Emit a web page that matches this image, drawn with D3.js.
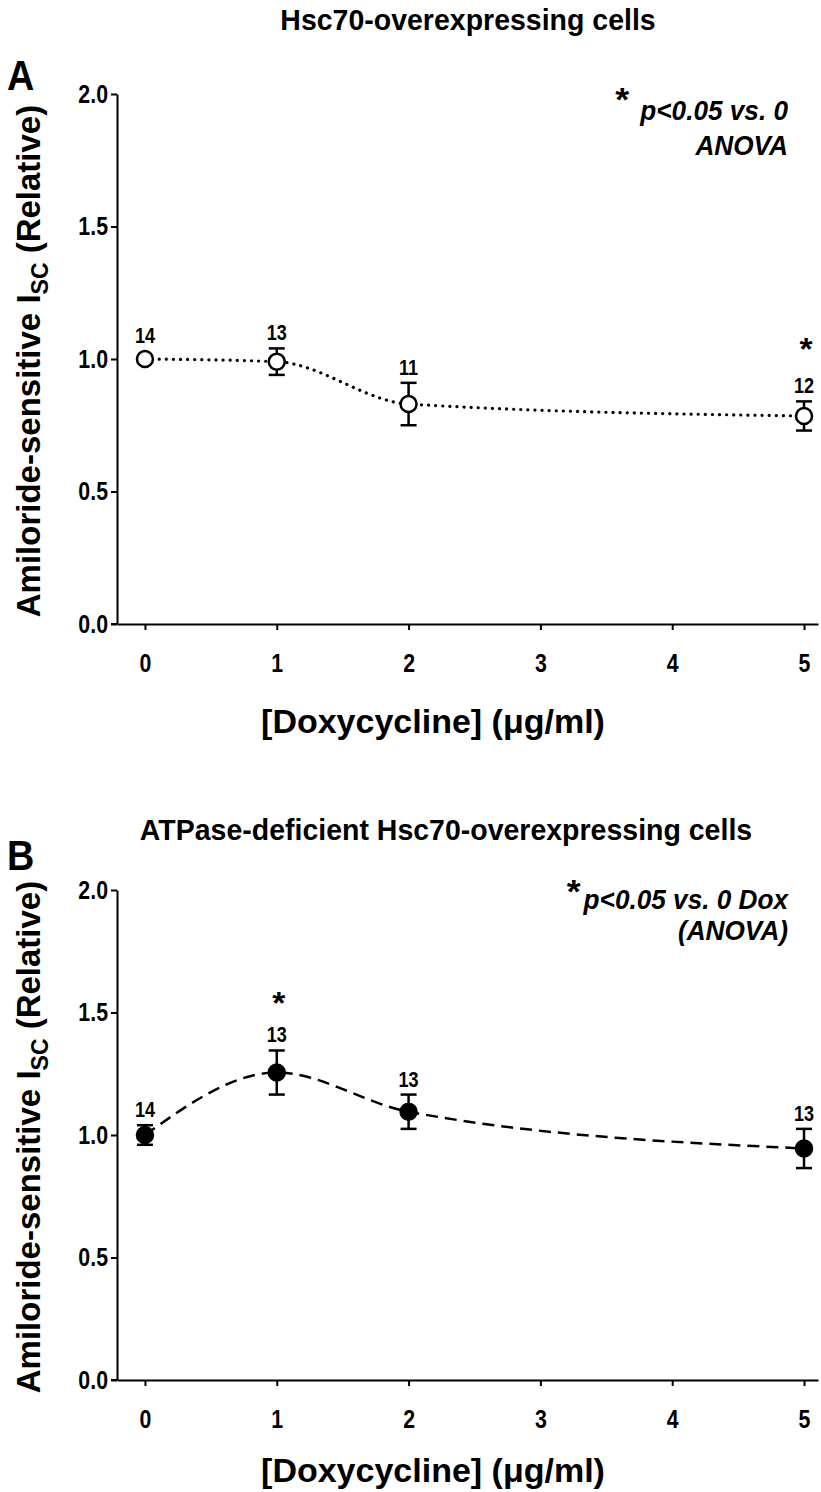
<!DOCTYPE html>
<html>
<head>
<meta charset="utf-8">
<script src="https://cdn.jsdelivr.net/npm/d3@7"></script>
<style>
  html, body { margin: 0; padding: 0; background: #fff; }
  svg { display: block; }
  text { font-family: "Liberation Sans", Arial, sans-serif; font-weight: bold; fill: #000; }
</style>
</head>
<body>
<svg id="chart" width="821" height="1492"></svg>
<script>
// ---- data ----
const doseValues = [0, 1, 2, 5];
const xTickValues = [0, 1, 2, 3, 4, 5];
const yTickValues = [0, 0.5, 1.0, 1.5, 2.0];

const meanA = [1.00, 0.99, 0.83, 0.785];
const errA  = [0.01, 0.05, 0.08, 0.055];
const nA    = [14, 13, 11, 12];
const starA = [false, false, false, true];

const meanB = [1.00, 1.255, 1.095, 0.945];
const errB  = [0.04, 0.09, 0.07, 0.08];
const nB    = [14, 13, 13, 13];
const starB = [false, true, false, false];

const titles = ["Hsc70-overexpressing cells", "ATPase-deficient Hsc70-overexpressing cells"];
const panelLetters = ["A", "B"];
const xAxisTitle = "[Doxycycline] (\u03bcg/ml)";
const noteA = ["p<0.05 vs. 0", "ANOVA"];
const noteB = ["p<0.05 vs. 0 Dox", "(ANOVA)"];

// ---- layout ----
const SX = 0.82; // horizontal condensing for the narrow bold face
const svg = d3.select("#chart");
const x = d3.scaleLinear().domain([-0.212, 5.106]).range([117, 818]);

function txt(parent, x0, y0, str, size, sx, anchor, italic) {
  const t = parent.append("text")
    .attr("transform", `translate(${x0},${y0}) scale(${sx},1)`)
    .attr("font-size", size).attr("text-anchor", anchor || "start").text(str);
  if (italic) t.attr("font-style", "italic");
  return t;
}

const panels = [
  { top: 94, bottom: 624, mean: meanA, err: errA, n: nA, star: starA, filled: false,
    dash: "0.1 7", cap: "round", title: titles[0], titleX: 468, titleY: 30, letter: panelLetters[0], letterY: 90,
    note: noteA, noteY: [120, 155], noteStarDx: -18, noteStarY: 111, xTitleY: 733, starOff: 53 },
  { top: 890, bottom: 1380, mean: meanB, err: errB, n: nB, star: starB, filled: true,
    dash: "12 7", cap: "butt", title: titles[1], titleX: 446, titleY: 840, letter: panelLetters[1], letterY: 870,
    note: noteB, noteY: [909, 940], noteStarDx: -10, noteStarY: 903, xTitleY: 1482, starOff: 48 }
];

panels.forEach(p => {
  const y = d3.scaleLinear().domain([0, 2]).range([p.bottom, p.top]);
  const g = svg.append("g");

  // title and panel letter
  txt(g, p.titleX, p.titleY, p.title, 30, 0.95, "middle");
  txt(g, 7, p.letterY, p.letter, 42, 0.9, "start");

  // y axis
  const yAxis = d3.axisLeft(y).tickValues(yTickValues).tickFormat(d3.format(".1f"))
    .tickSizeOuter(0).tickSizeInner(6).tickPadding(5);
  const ya = g.append("g").attr("transform", `translate(117,0)`).call(yAxis)
    .attr("font-family", null).attr("font-size", null);
  ya.select(".domain").attr("stroke-width", 2);
  ya.selectAll(".tick line").attr("stroke-width", 2);
  ya.selectAll(".tick text").attr("font-size", 26).attr("fill", "#000")
    .attr("transform", `scale(${SX},1)`).attr("x", -9 / SX);

  // x axis
  const xAxis = d3.axisBottom(x).tickValues(xTickValues).tickFormat(d3.format("d"))
    .tickSizeOuter(0).tickSizeInner(6).tickPadding(24);
  const xa = g.append("g").attr("transform", `translate(0,${p.bottom})`).call(xAxis)
    .attr("font-family", null).attr("font-size", null);
  xa.select(".domain").attr("stroke-width", 2);
  xa.selectAll(".tick line").attr("stroke-width", 2);
  xa.selectAll(".tick text").attr("font-size", 26).attr("fill", "#000")
    .attr("transform", `scale(${SX},1)`);
  xa.append("line").attr("x1", 111).attr("x2", 117).attr("y1", 0).attr("y2", 0)
    .attr("stroke", "#000").attr("stroke-width", 2);

  // x title
  txt(g, 433, p.xTitleY, xAxisTitle, 34, 1.0, "middle");

  // y title
  const cy = (p.top + p.bottom) / 2 + 2;
  const yt = g.append("text")
    .attr("transform", `translate(40,${cy}) rotate(-90)`)
    .attr("text-anchor", "middle").attr("font-size", 33);
  yt.append("tspan").text("Amiloride-sensitive I");
  yt.append("tspan").attr("font-size", 23).attr("dy", 8).text("SC");
  yt.append("tspan").attr("dy", -8).text(" (Relative)");

  const pts = doseValues.map((d, i) => ({ d, m: p.mean[i], e: p.err[i], n: p.n[i], s: p.star[i] }));

  // line
  const line = d3.line().x(q => x(q.d)).y(q => y(q.m)).curve(d3.curveMonotoneX);
  g.append("path").datum(pts).attr("d", line).attr("fill", "none")
    .attr("stroke", "#000").attr("stroke-width", p.filled ? 2.5 : 3.2)
    .attr("stroke-dasharray", p.dash).attr("stroke-linecap", p.cap);

  // error bars
  const eb = g.append("g").attr("stroke", "#000").attr("stroke-width", 2.5);
  pts.forEach(q => {
    const cx = x(q.d);
    eb.append("line").attr("x1", cx).attr("x2", cx).attr("y1", y(q.m + q.e)).attr("y2", y(q.m - q.e));
    eb.append("line").attr("x1", cx - 8).attr("x2", cx + 8).attr("y1", y(q.m + q.e)).attr("y2", y(q.m + q.e));
    eb.append("line").attr("x1", cx - 8).attr("x2", cx + 8).attr("y1", y(q.m - q.e)).attr("y2", y(q.m - q.e));
  });

  // markers
  g.selectAll("circle.pt").data(pts).enter().append("circle")
    .attr("cx", q => x(q.d)).attr("cy", q => y(q.m)).attr("r", 8)
    .attr("fill", p.filled ? "#000" : "#fff").attr("stroke", "#000").attr("stroke-width", 2.5);

  // n labels and stars
  pts.forEach(q => {
    const topY = Math.min(y(q.m + q.e), y(q.m) - 8);
    txt(g, x(q.d), topY - 8, String(q.n), 22, SX, "middle");
    if (q.s) txt(g, x(q.d) + 2, topY - p.starOff + 12, "*", 32, 1.05, "middle");
  });

  // note (right aligned), star placed just left of the first line
  const NS = 0.97;
  const l1 = txt(g, 788, p.noteY[0], p.note[0], 27, NS, "end", true);
  txt(g, 788, p.noteY[1], p.note[1], 27, NS, "end", true);
  const w = l1.node().getComputedTextLength() * NS;
  txt(g, 788 - w + p.noteStarDx, p.noteStarY, "*", 34, 1.05, "middle");
});
</script>
</body>
</html>
